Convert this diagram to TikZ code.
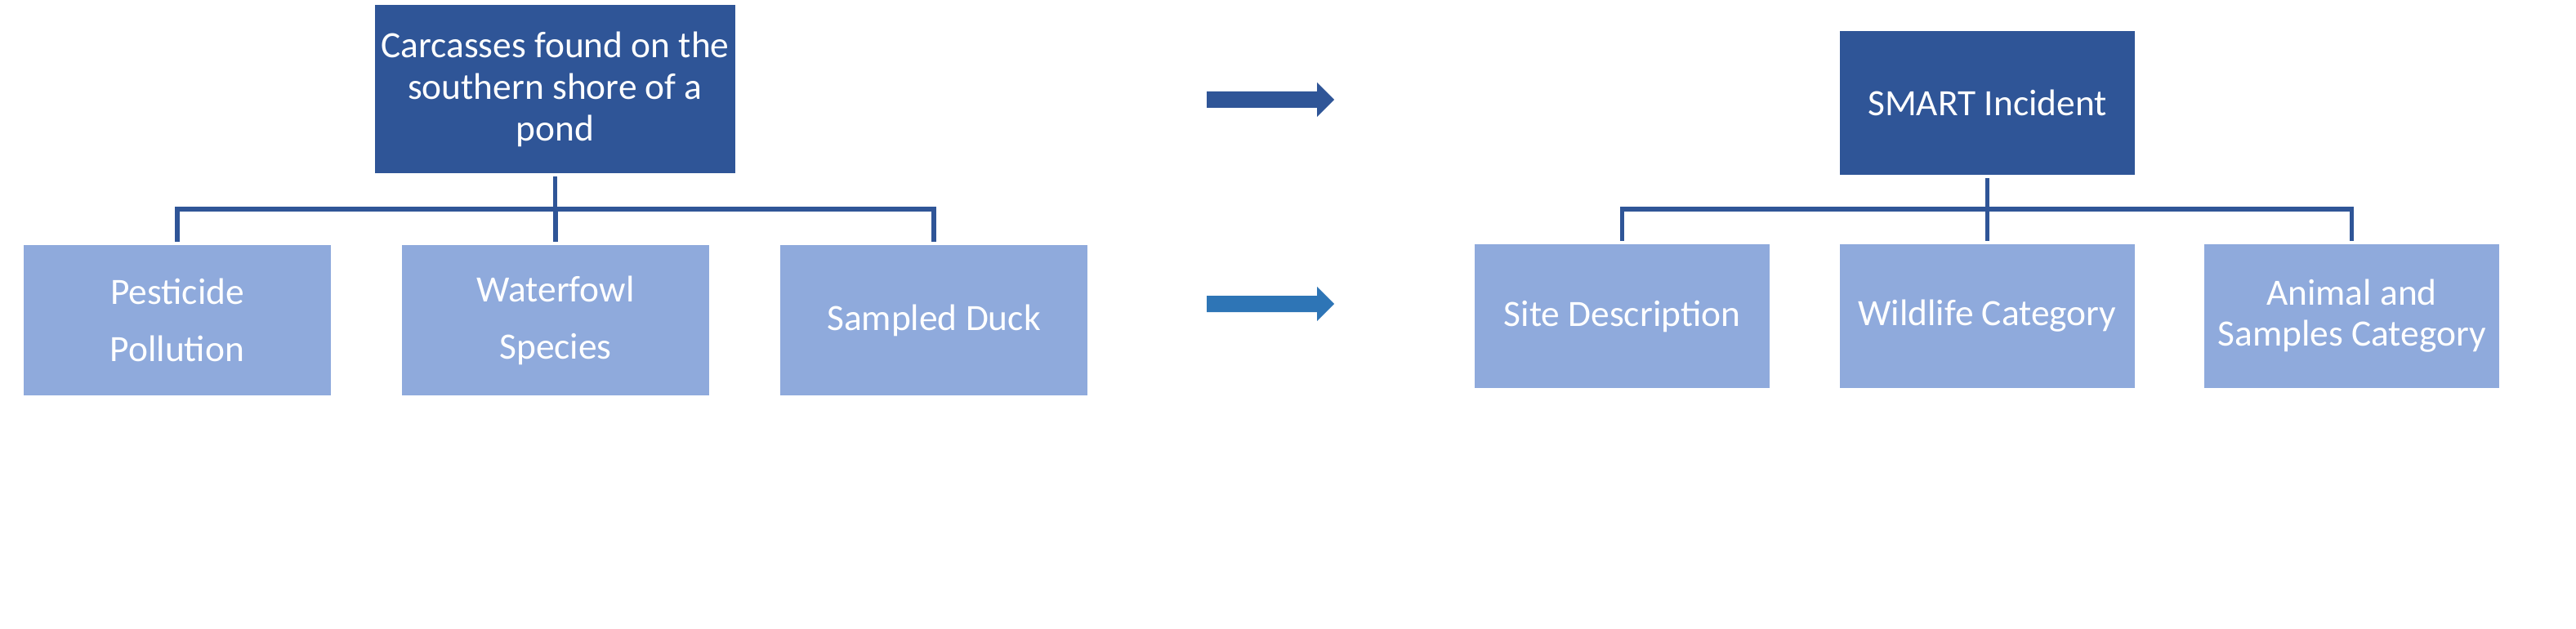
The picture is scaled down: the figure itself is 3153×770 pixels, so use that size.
\documentclass[tikz,border=0pt]{standalone}
\usepackage{fontspec}
\setmainfont{Carlito}
\definecolor{darkbox}{HTML}{2F5597}
\definecolor{lightbox}{HTML}{8FAADC}
\definecolor{arrowtwo}{HTML}{2E75B6}
\tikzset{
  x=0.5pt, y=-0.5pt,
  boxbase/.style={draw=white, line width=0.6pt, text=white, align=center, inner sep=0pt,
    font=\fontsize{22.7}{25.5}\selectfont},
  topbox/.style={boxbase, fill=darkbox},
  subbox/.style={boxbase, fill=lightbox},
  conn/.style={draw=darkbox, line width=2.6pt, line cap=rect},
  blockarrow/.style={draw=none},
}
\begin{document}
\begin{tikzpicture}
\useasboundingbox (0,0) rectangle (3153,770);
% left tree
\node[topbox, minimum width=221.5pt, minimum height=104pt] (ltop) at (679.5,109)
  {Carcasses found on the\\southern shore of a\\pond};
\node[subbox, minimum width=188.75pt, minimum height=93pt,
  font=\fontsize{22.7}{35}\selectfont] (l1) at (217,392) {Pesticide\\Pollution};
\node[subbox, minimum width=188.75pt, minimum height=93pt,
  font=\fontsize{22.7}{35}\selectfont] (l2) at (680,392) {Waterfowl\\Species};
\node[subbox, minimum width=188.75pt, minimum height=93pt] (l3) at (1143,392) {Sampled Duck};
\coordinate (lbar) at (679.5,256);
\draw[conn] ([yshift=-2.5pt]ltop.south) -- (lbar);
\draw[conn] (l1.north |- lbar) -- (l3.north |- lbar);
\draw[conn] (l1.north |- lbar) -- ([yshift=2.5pt]l1.north);
\draw[conn] (l2.north |- lbar) -- ([yshift=2.5pt]l2.north);
\draw[conn] (l3.north |- lbar) -- ([yshift=2.5pt]l3.north);
% right tree
\node[topbox, minimum width=181.5pt, minimum height=89pt] (rtop) at (2432.5,126) {SMART Incident};
\node[subbox, minimum width=181.5pt, minimum height=89pt] (r1) at (1985.5,387) {Site Description};
\node[subbox, minimum width=181.5pt, minimum height=89pt] (r2) at (2432.5,387) {Wildlife Category};
\node[subbox, minimum width=181.5pt, minimum height=89pt,
  font=\fontsize{22.7}{25}\selectfont] (r3) at (2878.5,387) {Animal and\\Samples Category};
\coordinate (rbar) at (2432.5,256);
\draw[conn] ([yshift=-2.5pt]rtop.south) -- (rbar);
\draw[conn] (r1.north |- rbar) -- (r3.north |- rbar);
\draw[conn] (r1.north |- rbar) -- ([yshift=2.5pt]r1.north);
\draw[conn] (r2.north |- rbar) -- ([yshift=2.5pt]r2.north);
\draw[conn] (r3.north |- rbar) -- ([yshift=2.5pt]r3.north);
% block arrows
\fill[darkbox] (1477,112) -- (1612,112) -- (1612,101) -- (1633,122) -- (1612,143)
  -- (1612,132) -- (1477,132) -- cycle;
\fill[arrowtwo] (1477,362) -- (1612,362) -- (1612,351) -- (1633,372) -- (1612,393)
  -- (1612,382) -- (1477,382) -- cycle;
\end{tikzpicture}
\end{document}
